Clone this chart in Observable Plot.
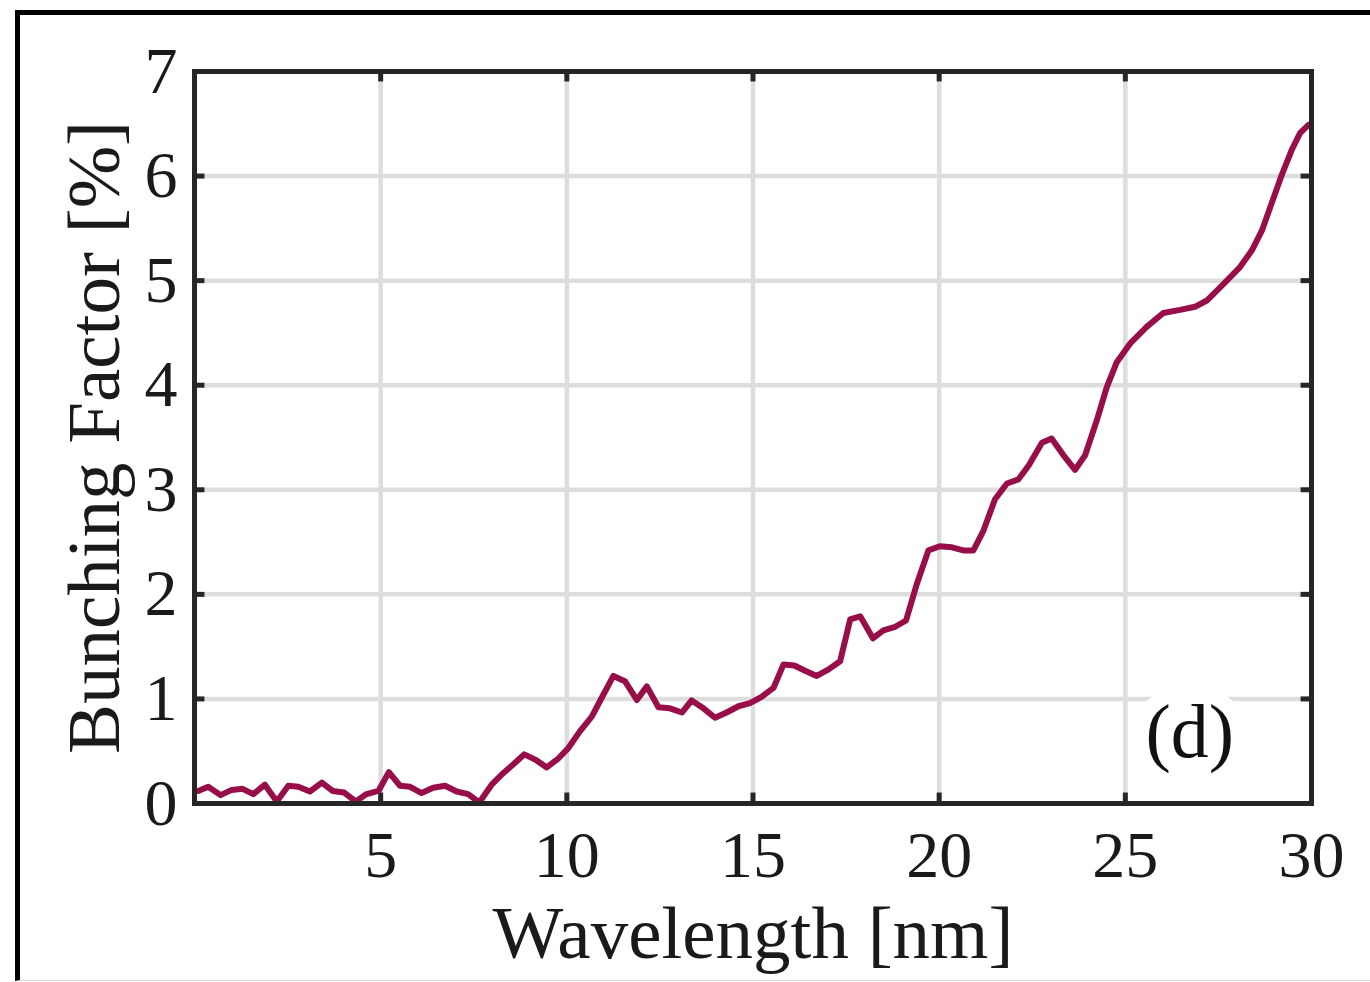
<!DOCTYPE html>
<html>
<head>
<meta charset="utf-8">
<script src="https://cdn.jsdelivr.net/npm/d3@7"></script>
<script src="https://cdn.jsdelivr.net/npm/@observablehq/plot@0.6"></script>
<style>
  html, body { margin: 0; padding: 0; background: #fff; }
  #wrap { position: relative; width: 1370px; height: 982px; overflow: hidden; }
  #chart { position: absolute; left: 0; top: 0; }
  #outer { position: absolute; left: 15px; top: 10px; width: 1400px; height: 971px; box-sizing: border-box;
           border-top: 5px solid #000; border-left: 5px solid #000; border-bottom: 1px solid #d8d8d8; pointer-events: none; }
</style>
</head>
<body>
<div id="wrap">
  <div id="chart"></div>
  <div id="outer"></div>
</div>
<script>
// Data
const wavelength = [0.10,0.37,0.70,1.00,1.29,1.58,1.89,2.21,2.52,2.79,3.10,3.42,3.71,4.02,4.33,4.62,4.94,5.22,5.52,5.79,6.10,6.41,6.73,7.04,7.35,7.65,7.98,8.29,8.58,8.86,9.15,9.46,9.77,10.04,10.35,10.67,10.98,11.25,11.56,11.88,12.15,12.46,12.77,13.09,13.35,13.67,13.98,14.29,14.61,14.92,15.23,15.55,15.82,16.11,16.40,16.71,17.02,17.34,17.61,17.88,18.22,18.50,18.82,19.11,19.40,19.71,20.02,20.34,20.65,20.92,21.19,21.50,21.82,22.13,22.40,22.76,23.02,23.34,23.65,23.92,24.23,24.50,24.77,25.13,25.58,26.02,26.47,26.87,27.19,27.64,28.08,28.40,28.67,28.93,29.20,29.47,29.69,29.92];
const bunching = [0.12,0.16,0.08,0.13,0.14,0.09,0.18,0.02,0.17,0.16,0.115,0.20,0.12,0.105,0.02,0.09,0.12,0.30,0.17,0.16,0.10,0.15,0.17,0.115,0.09,0.01,0.18,0.29,0.38,0.47,0.42,0.345,0.43,0.53,0.69,0.83,1.04,1.22,1.17,0.99,1.12,0.92,0.91,0.87,0.985,0.91,0.82,0.87,0.93,0.96,1.02,1.105,1.33,1.32,1.27,1.22,1.28,1.36,1.76,1.79,1.58,1.655,1.69,1.75,2.10,2.42,2.46,2.45,2.42,2.42,2.61,2.91,3.06,3.10,3.23,3.45,3.49,3.33,3.19,3.33,3.66,3.98,4.22,4.40,4.56,4.69,4.72,4.75,4.81,4.97,5.13,5.29,5.48,5.74,6.01,6.25,6.41,6.49];
const xTicks = [5, 10, 15, 20, 25, 30];
const yTicks = [0, 1, 2, 3, 4, 5, 6, 7];
const xLabel = "Wavelength [nm]";
const yLabel = "Bunching Factor [%]";
const panelLabel = "(d)";

const data = wavelength.map((w, i) => ({w, b: bunching[i]}));
const xGrid = xTicks.filter(t => t < 30);
const yGrid = yTicks.filter(t => t > 0 && t < 7);

const ink = "#262626";
const lineColor = "#970e48";

const chart = Plot.plot({
  width: 1370,
  height: 982,
  marginLeft: 194,
  marginRight: 59,
  marginTop: 71,
  marginBottom: 179,
  x: {domain: [0, 30]},
  y: {domain: [0, 7]},
  style: {fontFamily: "'Liberation Serif', serif", background: "transparent", color: ink},
  marks: [
    Plot.gridX(xGrid, {stroke: "#dddddd", strokeOpacity: 1, strokeWidth: 4.5}),
    Plot.gridY(yGrid, {stroke: "#dddddd", strokeOpacity: 1, strokeWidth: 4.5}),
    Plot.ruleX(xGrid, {x: d => d, y1: 0, y2: 0.1, stroke: ink, strokeWidth: 5}),
    Plot.ruleX(xGrid, {x: d => d, y1: 6.9, y2: 7, stroke: ink, strokeWidth: 5}),
    Plot.ruleY(yGrid, {y: d => d, x1: 0, x2: 0.28, stroke: ink, strokeWidth: 5}),
    Plot.ruleY(yGrid, {y: d => d, x1: 29.72, x2: 30, stroke: ink, strokeWidth: 5}),
    Plot.text([panelLabel], {x: 26.73, y: 0.68, text: d => d, fontSize: 76, fill: "#111",
      stroke: "white", strokeWidth: 30, textAnchor: "middle", lineAnchor: "middle"}),
    Plot.line(data, {x: "w", y: "b", stroke: lineColor, strokeWidth: 6, strokeLinejoin: "round", clip: true}),
    Plot.frame({stroke: ink, strokeWidth: 5}),
    Plot.axisX(xTicks, {anchor: "bottom", tickSize: 0, tickPadding: 27, fontSize: 66, fill: "#1a1a1a", label: null, tickFormat: d => String(d)}),
    Plot.axisY(yTicks, {anchor: "left", tickSize: 0, tickPadding: 17, fontSize: 66, fill: "#1a1a1a", label: null, tickFormat: d => String(d)}),
    Plot.text([xLabel], {frameAnchor: "bottom", dy: 130, text: d => d, fontSize: 75, fill: "#1a1a1a", textAnchor: "middle", lineAnchor: "middle"}),
    Plot.text([yLabel], {frameAnchor: "left", dx: -100, rotate: -90, text: d => d, fontSize: 75, fill: "#1a1a1a", textAnchor: "middle", lineAnchor: "middle"})
  ]
});
document.getElementById("chart").appendChild(chart);
</script>
</body>
</html>
